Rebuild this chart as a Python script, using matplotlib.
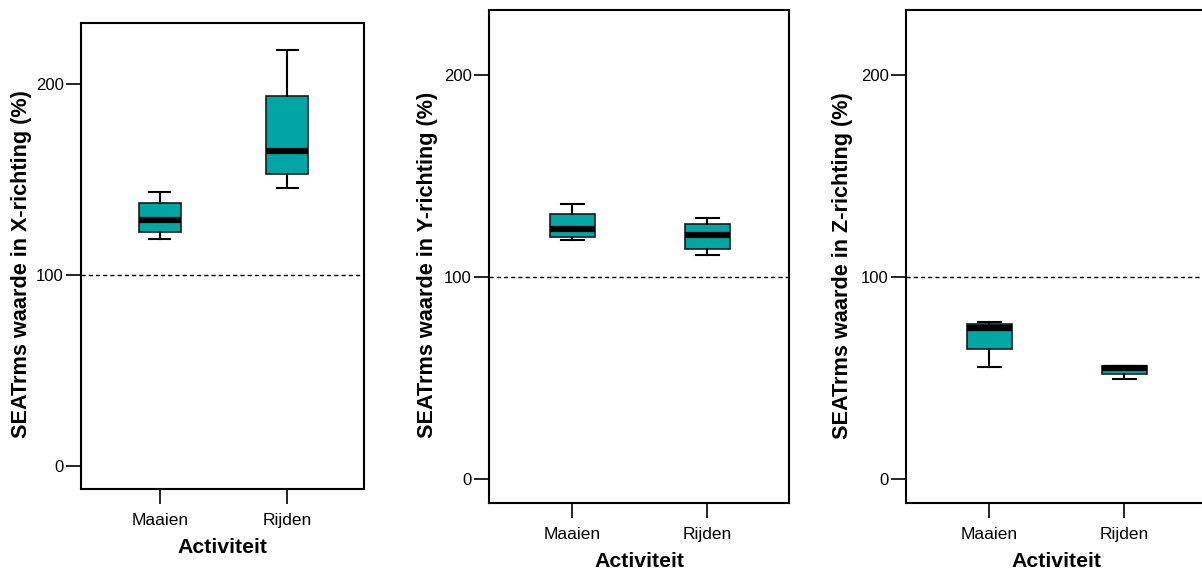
import matplotlib
matplotlib.use('Agg')
from matplotlib import pyplot as plt

plt.rcParams['font.family'] = ['Liberation Sans', 'DejaVu Sans']

activities = ['Maaien', 'Rijden']
directions = ['X', 'Y', 'Z']

# five-number summaries: whislo, q1, median, q3, whishi
x_maaien = [118.8, 122.5, 128.8, 137.7, 143.5]
x_rijden = [145.5, 152.9, 164.9, 193.9, 218.0]
y_maaien = [118.0, 119.8, 123.8, 131.0, 136.2]
y_rijden = [110.6, 113.6, 120.5, 126.3, 129.0]
z_maaien = [55.1, 64.0, 74.8, 76.4, 77.4]
z_rijden = [49.6, 52.0, 54.6, 55.8, 55.8]

y_ticks = [0, 100, 200]
reference_level = 100

TEAL = '#00a6a3'
W, H = 1202, 572

# axes rectangles in pixels: left, top, right, bottom
panels = [
    (81, 23, 364, 489),
    (489, 10, 789, 503),
    (906, 10, 1206, 503),
]
label_x = [-0.173, -0.17, -0.177]


def stats(values, label):
    lo, q1, med, q3, hi = values
    return {'label': label, 'whislo': lo, 'q1': q1, 'med': med, 'q3': q3, 'whishi': hi, 'fliers': []}


fig = plt.figure(figsize=(W / 100, H / 100), dpi=100)

series = [(x_maaien, x_rijden), (y_maaien, y_rijden), (z_maaien, z_rijden)]
for i, ((l, t, r, b), (maaien, rijden), d) in enumerate(zip(panels, series, directions)):
    ax = fig.add_axes([l / W, 1 - b / H, (r - l) / W, (b - t) / H])
    bx = [stats(maaien, activities[0]), stats(rijden, activities[1])]
    ax.bxp(bx, positions=[1, 2], widths=0.33, patch_artist=True, showfliers=False,
           boxprops=dict(facecolor=TEAL, edgecolor='#1a1a1a', linewidth=1.2),
           medianprops=dict(color='black', linewidth=4.5, solid_capstyle='butt'),
           whiskerprops=dict(color='black', linewidth=1.5),
           capprops=dict(color='black', linewidth=1.5))
    ax.axhline(reference_level, color='black', linewidth=1, linestyle=(0, (3, 2.2)), zorder=0)
    ax.set_xlim(0.382, 2.604)
    ax.set_ylim(-12, 232)
    ax.set_yticks(y_ticks)
    ax.set_yticklabels([str(v) for v in y_ticks])
    ax.tick_params(axis='both', direction='out', length=10.5, width=1.2, pad=2, colors='black')
    ax.tick_params(axis='y', labelsize=12)
    ax.tick_params(axis='x', labelsize=12.5, pad=7)
    for s in ax.spines.values():
        s.set_linewidth(1.5)
    ax.set_ylabel('SEATrms waarde in %s-richting (%%)' % d, fontsize=15.6, fontweight='bold')
    ax.yaxis.set_label_coords(label_x[i], 0.482)
    ax.set_xlabel('Activiteit', fontsize=15.3, fontweight='bold', labelpad=7)

fig.savefig('out.png', dpi=100)
